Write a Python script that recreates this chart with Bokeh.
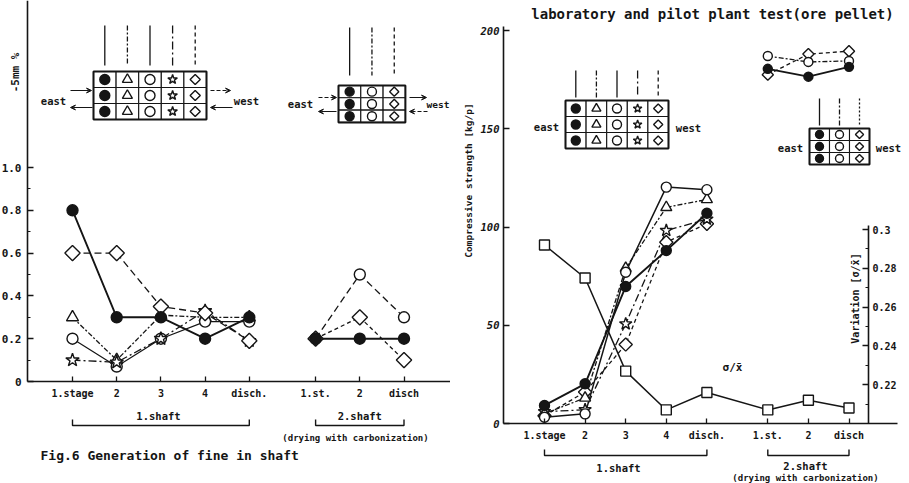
import math
from bokeh.plotting import figure
from bokeh.models import (Range1d, LinearAxis, FixedTicker, NumeralTickFormatter,
                          Arrow, VeeHead)
from bokeh.layouts import row
from bokeh.core.properties import value
from bokeh.embed import file_html
from bokeh.resources import INLINE

# ---------------- data ----------------
stage_labels = ["1.stage", "2", "3", "4", "disch.", "1.st.", "2", "disch"]
shaft1_count = 5
shaft2_count = 3

# Fig.6  generation of fine (-5mm %) in shaft
fine_filled_1 = [0.80, 0.30, 0.30, 0.20, 0.30]
fine_triangle_1 = [0.30, 0.10, 0.31, 0.30, 0.30]
fine_open_1 = [0.20, 0.07, 0.20, 0.28, 0.28]
fine_star_1 = [0.10, 0.09, 0.20, 0.33, 0.19]
fine_diamond_1 = [0.60, 0.60, 0.35, 0.32, 0.19]
fine_filled_2 = [0.20, 0.20, 0.20]
fine_open_2 = [0.20, 0.50, 0.30]
fine_diamond_2 = [0.20, 0.30, 0.10]

# compressive strength [kg/p] (laboratory and pilot plant test, ore pellet)
str_filled_1 = [9.2, 20.2, 69.7, 88.0, 107.0]
str_triangle_1 = [5.0, 13.0, 79.0, 110.0, 114.0]
str_open_1 = [3.2, 4.9, 77.0, 120.3, 119.0]
str_star_1 = [6.0, 7.0, 50.7, 98.2, 104.0]
str_diamond_1 = [4.0, 16.0, 40.2, 92.3, 101.6]
str_filled_2 = [180.5, 176.5, 181.5]
str_open_2 = [187.0, 184.0, 184.5]
str_diamond_2 = [177.5, 188.0, 189.5]
variation = [0.292, 0.275, 0.227, 0.207, 0.216, 0.207, 0.212, 0.208]

# ---------------- layout helpers ----------------
FONT = "DejaVu Sans Mono"
INK = "#151515"
H = 483
W1, W2 = 450, 455
SHAFT_GAP = 0.5

pos1 = [float(i) for i in range(shaft1_count)]
pos2 = [shaft1_count + SHAFT_GAP + i for i in range(shaft2_count)]
positions = pos1 + pos2

# left figure pixel mapping
LX0, LXS, LY0, LYS = 72.0, 44.2, 381.0, 214.0
# right figure pixel mapping (figure starts at page x = 450)
RX0, RXS, RY0, RYS = 94.0, 40.6, 423.0, 1.965
VPX = 1940.0  # px per unit of variation


def lx(px):
    return (px - LX0) / LXS


def ly(py):
    return (LY0 - py) / LYS


def rx(px):
    return (px - 450 - RX0) / RXS


def ry(py):
    return (RY0 - py) / RYS


def make_fig(w, xr, yr):
    p = figure(width=w, height=H, output_backend="svg", toolbar_location=None,
               x_range=xr, y_range=yr, x_axis_location=None, y_axis_location=None,
               min_border=0, outline_line_color=None)
    p.background_fill_color = "white"
    p.border_fill_color = "white"
    for g in p.grid:
        g.visible = False
    return p


def txt(p, x, y, s, size, align="center", baseline="middle", angle=0.0, style="bold"):
    p.text(x=[x], y=[y], text=[s], text_font=value(FONT),
           text_font_size=value(f"{size}px"), text_color=INK, text_align=align,
           text_baseline=baseline, angle=angle, text_font_style=style)


def style_axis(ax, size=10):
    ax.axis_line_color = INK
    ax.axis_line_width = 1.6
    ax.major_tick_line_color = INK
    ax.minor_tick_line_color = INK
    ax.major_tick_line_width = 1.3
    ax.minor_tick_line_width = 1.1
    ax.major_label_text_font = FONT
    ax.major_label_text_font_size = f"{size}px"
    ax.major_label_text_font_style = "bold"
    ax.major_label_text_color = INK


def series_lines(p, xs, ys, dash, lw=1.3, **kw):
    p.line(xs, ys, line_color=INK, line_width=lw, line_dash=dash, **kw)


def series_marks(p, xs, ys, marker, filled, size, **kw):
    angle = 0.0
    if marker == "diamond":  # square diamond as in the original drawing
        marker, angle, size = "square", math.pi / 4, size * 0.72
    p.scatter(xs, ys, marker=marker, size=size, angle=angle, line_color=INK, line_width=1.4,
              fill_color=INK if filled else "white", **kw)


def arrow(p, x0, y0, x1, y1, dash="solid"):
    p.add_layout(Arrow(x_start=x0, y_start=y0, x_end=x1, y_end=y1, line_color=INK,
                       line_width=1.2, line_dash=dash,
                       end=VeeHead(size=5, line_color=INK, line_width=1.0, fill_color=INK)))


def grid_diagram(p, X, Y, left, top, cw, rh, markers, fills, dashes, line_top, line_bottom, msize):
    ncols = len(markers)
    L, R, T, B = [], [], [], []
    for r in range(3):
        for c in range(ncols):
            L.append(X(left + c * cw)); R.append(X(left + (c + 1) * cw))
            T.append(Y(top + r * rh)); B.append(Y(top + (r + 1) * rh))
    p.quad(left=L, right=R, top=T, bottom=B, fill_color="white", line_color=INK, line_width=1.1)
    p.quad(left=[X(left)], right=[X(left + ncols * cw)], top=[Y(top)], bottom=[Y(top + 3 * rh)],
           fill_color=None, line_color=INK, line_width=2.0)
    for c in range(ncols):
        cx = X(left + (c + 0.5) * cw)
        p.segment(x0=[cx], y0=[Y(line_top)], x1=[cx], y1=[Y(line_bottom)], line_color=INK,
                  line_width=1.3, line_dash=dashes[c])
        ys = [Y(top + (r + 0.5) * rh) for r in range(3)]
        series_marks(p, [cx] * 3, ys, markers[c], fills[c], msize)


DASH_TRI = "5 2 2 2"
DASH_STAR = "8 3 2 3"
DASH_DIA = "7 4"
DASH_SHORT = "4 3"


def stage_overrides():
    return {(int(v) if float(v).is_integer() else v): lab
            for v, lab in zip(positions, stage_labels)}


# ================= LEFT: Fig.6 =================
p1 = make_fig(W1, Range1d(-LX0 / LXS, (W1 - LX0) / LXS), Range1d(-(H - LY0) / LYS, LY0 / LYS))

yax = LinearAxis(fixed_location=lx(27), bounds=(0, LY0 / LYS),
                 ticker=FixedTicker(ticks=[0, 0.2, 0.4, 0.6, 0.8, 1.0],
                                    minor_ticks=[0.1, 0.3, 0.5, 0.7, 0.9]),
                 formatter=NumeralTickFormatter(format="0.0"),
                 major_label_overrides={0: "0"},
                 major_tick_in=6, major_tick_out=0, minor_tick_in=3, minor_tick_out=0,
                 major_label_standoff=6)
style_axis(yax, 11)
p1.add_layout(yax, "left")

xax = LinearAxis(fixed_location=0, bounds=(lx(27), lx(450)),
                 ticker=FixedTicker(ticks=positions, minor_ticks=[]),
                 major_label_overrides=stage_overrides(),
                 major_tick_in=5, major_tick_out=0, minor_tick_in=0, minor_tick_out=0,
                 major_label_standoff=6)
style_axis(xax, 10)
p1.add_layout(xax, "below")

# lines
series_lines(p1, pos1, fine_diamond_1, DASH_DIA)
series_lines(p1, pos1, fine_star_1, DASH_STAR)
series_lines(p1, pos1, fine_triangle_1, DASH_TRI)
series_lines(p1, pos1, fine_open_1, "solid", 1.2)
series_lines(p1, pos1, fine_filled_1, "solid", 1.9)
series_lines(p1, pos2, fine_open_2, DASH_DIA)
series_lines(p1, pos2, fine_diamond_2, DASH_SHORT)
series_lines(p1, pos2, fine_filled_2, "solid", 1.9)
# markers
series_marks(p1, pos1, fine_triangle_1, "triangle", False, 12)
series_marks(p1, pos1, fine_open_1, "circle", False, 11)
series_marks(p1, pos1, fine_star_1, "star", False, 14)
series_marks(p1, pos1, fine_diamond_1, "diamond", False, 15)
series_marks(p1, pos1, fine_filled_1, "circle", True, 11)
series_marks(p1, pos2, fine_diamond_2, "diamond", False, 15)
series_marks(p1, pos2, fine_open_2, "circle", False, 11)
series_marks(p1, pos2, fine_filled_2, "circle", True, 11)

# brackets + texts
br_y, br_top = ly(425), ly(419)
p1.line([pos1[0], pos1[0], pos1[-1], pos1[-1]], [br_top, br_y, br_y, br_top], line_color=INK, line_width=1.4)
p1.line([pos2[0], pos2[0], pos2[-1], pos2[-1]], [br_top, br_y, br_y, br_top], line_color=INK, line_width=1.4)
txt(p1, lx(158), ly(415), "1.shaft", 10.5)
txt(p1, pos2[1], ly(415), "2.shaft", 10.5)
txt(p1, lx(355), ly(437), "(drying with carbonization)", 9)
txt(p1, lx(40), ly(455), "Fig.6 Generation of fine in shaft", 13, align="left")
txt(p1, lx(15), ly(72), "-5mm %", 11, angle=math.pi / 2)

# diagrams
grid_diagram(p1, lx, ly, 93, 71, 22.6, 16, ["circle", "triangle", "circle", "star", "diamond"],
             [True, False, False, False, False],
             ["solid", DASH_TRI, "solid", DASH_STAR, DASH_SHORT], 25, 65, 10)
arrow(p1, lx(70), ly(90), lx(91), ly(90))
arrow(p1, lx(92), ly(107), lx(70), ly(107))
arrow(p1, lx(210), ly(90), lx(230), ly(90), "4 2")
arrow(p1, lx(232), ly(107), lx(210), ly(107))
txt(p1, lx(53), ly(100), "east", 10.5)
txt(p1, lx(246), ly(100), "west", 10.5)

grid_diagram(p1, lx, ly, 338, 85, 22.3, 12.3, ["circle", "circle", "diamond"],
             [True, False, False], ["solid", DASH_TRI, DASH_SHORT], 27, 75, 9)
arrow(p1, lx(318), ly(97), lx(336), ly(97), "4 2")
arrow(p1, lx(336), ly(111), lx(318), ly(111))
arrow(p1, lx(409), ly(97), lx(426), ly(97))
arrow(p1, lx(427), ly(111), lx(409), ly(111), "4 2")
txt(p1, lx(300), ly(103), "east", 10.5)
txt(p1, lx(426), ly(104), "west", 9.5, align="left")

# ================= RIGHT: compressive strength =================
p2 = make_fig(W2, Range1d(-RX0 / RXS, (W2 - RX0) / RXS), Range1d(-(H - RY0) / RYS, RY0 / RYS))
p2.extra_y_ranges = {"var": Range1d(0.2 - (H - RY0) / VPX, 0.2 + RY0 / VPX)}

yax2 = LinearAxis(fixed_location=rx(503), bounds=(0, 202),
                  ticker=FixedTicker(ticks=[0, 50, 100, 150, 200], minor_ticks=[]),
                  major_tick_in=6, major_tick_out=0, minor_tick_in=0, minor_tick_out=0,
                  major_label_standoff=4)
style_axis(yax2, 10.5)
yax2.major_label_text_font_style = "bold italic"
p2.add_layout(yax2, "left")

vax = LinearAxis(y_range_name="var", fixed_location=rx(868), bounds=(0.2, 0.302),
                 ticker=FixedTicker(ticks=[0.22, 0.24, 0.26, 0.28, 0.30],
                                    minor_ticks=[0.21, 0.23, 0.25, 0.27, 0.29]),
                 formatter=NumeralTickFormatter(format="0.0[0]"),
                 major_tick_in=6, major_tick_out=0, minor_tick_in=3, minor_tick_out=0,
                 major_label_standoff=4)
style_axis(vax, 10)
p2.add_layout(vax, "right")

xax2 = LinearAxis(fixed_location=0, bounds=(rx(503), rx(897)),
                  ticker=FixedTicker(ticks=positions, minor_ticks=[]),
                  major_label_overrides=stage_overrides(),
                  major_tick_in=5, major_tick_out=0, minor_tick_in=0, minor_tick_out=0,
                  major_label_standoff=6)
style_axis(xax2, 10)
p2.add_layout(xax2, "below")

# variation (right axis)
series_lines(p2, positions, variation, "solid", 1.5, y_range_name="var")
# strength lines
series_lines(p2, pos1, str_diamond_1, DASH_SHORT)
series_lines(p2, pos1, str_star_1, DASH_STAR)
series_lines(p2, pos1, str_triangle_1, DASH_TRI)
series_lines(p2, pos1, str_open_1, "solid", 1.5)
series_lines(p2, pos1, str_filled_1, "solid", 1.9)
series_lines(p2, pos2, str_open_2, DASH_TRI)
series_lines(p2, pos2, str_diamond_2, DASH_SHORT)
series_lines(p2, pos2, str_filled_2, "solid", 1.9)
# markers
series_marks(p2, positions, variation, "square", False, 10, y_range_name="var")
series_marks(p2, pos1, str_diamond_1, "diamond", False, 13)
series_marks(p2, pos1, str_star_1, "star", False, 13)
series_marks(p2, pos1, str_triangle_1, "triangle", False, 11)
series_marks(p2, pos1, str_filled_1, "circle", True, 10)
series_marks(p2, pos1, str_open_1, "circle", False, 10)
series_marks(p2, pos2, str_diamond_2, "diamond", False, 11)
series_marks(p2, pos2, str_open_2, "circle", False, 9)
series_marks(p2, pos2, str_filled_2, "circle", True, 9)

# brackets / texts
rb_y, rb_top = ry(455), ry(449)
p2.line([pos1[0], pos1[0], pos1[-1], pos1[-1]], [rb_top, rb_y, rb_y, rb_top], line_color=INK, line_width=1.4)
p2.line([pos2[0], pos2[0], pos2[-1], pos2[-1]], [rb_top, rb_y, rb_y, rb_top], line_color=INK, line_width=1.4)
txt(p2, rx(618), ry(467), "1.shaft", 10.5)
txt(p2, rx(805), ry(465), "2.shaft", 10.5)
txt(p2, rx(805), ry(477.5), "(drying with carbonization)", 9)
txt(p2, rx(712), ry(13), "laboratory and pilot plant test(ore pellet)", 14)
txt(p2, rx(468), ry(180), "Compressive strength [kg/p]", 9.5, angle=math.pi / 2)
txt(p2, rx(855), ry(298), "Variation [σ/x̄]", 10, angle=math.pi / 2)
txt(p2, rx(732), ry(367), "σ/x̄", 11)

grid_diagram(p2, rx, ry, 565, 100, 20.6, 16, ["circle", "triangle", "circle", "star", "diamond"],
             [True, False, False, False, False],
             ["solid", DASH_TRI, "solid", DASH_STAR, DASH_SHORT], 70, 97, 9)
txt(p2, rx(546), ry(126), "east", 10.5)
txt(p2, rx(688), ry(127), "west", 10.5)

grid_diagram(p2, rx, ry, 809, 128, 20, 12, ["circle", "circle", "diamond"],
             [True, False, False], ["solid", DASH_TRI, "2 2"], 98, 125, 8)
txt(p2, rx(790), ry(147), "east", 10.5)
txt(p2, rx(888), ry(147), "west", 10.5)

layout = row(p1, p2)
open("out.html", "w").write(file_html(layout, INLINE))
